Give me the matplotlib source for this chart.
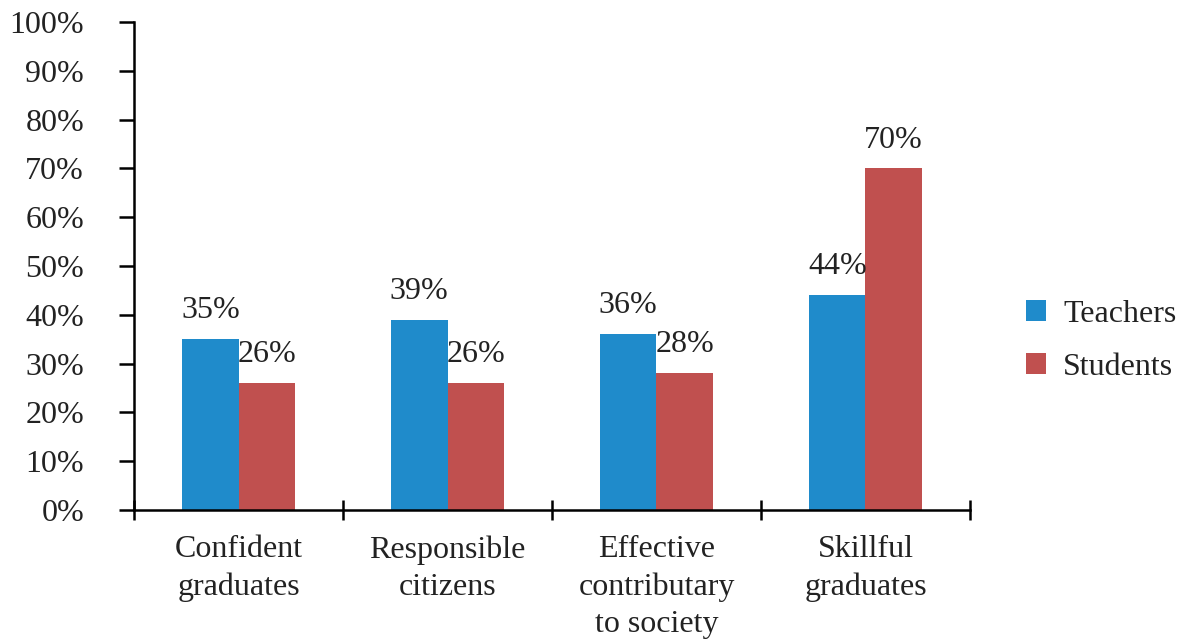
import matplotlib
matplotlib.use("Agg")
import matplotlib.pyplot as plt
import numpy as np

categories = ["Confident\ngraduates", "Responsible\ncitizens",
              "Effective\ncontributary\nto society", "Skillful\ngraduates"]
teachers = [35, 39, 36, 44]
students = [26, 26, 28, 70]
series_names = ["Teachers", "Students"]
y_ticks = [0, 10, 20, 30, 40, 50, 60, 70, 80, 90, 100]

blue = "#1f8bcb"
red = "#c0504f"
text_color = "#222222"
fs = 23

plt.rcParams["font.family"] = ["Liberation Serif", "DejaVu Serif"]

fig = plt.figure(figsize=(11.78, 6.43), dpi=100)
ax = fig.add_axes([0.1138, 0.2068, 0.7096, 0.759])

x = np.arange(len(categories)) + 0.5
w = 0.27
b1 = ax.bar(x - w / 2, teachers, w, color=blue, label=series_names[0], zorder=2)
b2 = ax.bar(x + w / 2, students, w, color=red, label=series_names[1], zorder=2)

for bars, vals in ((b1, teachers), (b2, students)):
    for rect, v in zip(bars, vals):
        ax.annotate(f"{v}%", (rect.get_x() + rect.get_width() / 2, v),
                    xytext=(0, 10), textcoords="offset points",
                    ha="center", va="bottom", fontsize=fs, color=text_color)

ax.set_xlim(0, 4)
ax.set_ylim(0, 100)
ax.set_yticks(y_ticks)
ax.set_yticklabels([f"{t}%" for t in y_ticks])
ax.set_xticks([0, 1, 2, 3, 4])
ax.set_xticklabels([])
ax.set_xticks(x, minor=True)
ax.set_xticklabels(categories, minor=True, fontsize=fs, color=text_color,
                   linespacing=1.38)

for s in ("top", "right"):
    ax.spines[s].set_visible(False)
for s in ("left", "bottom"):
    ax.spines[s].set_linewidth(1.8)
    ax.spines[s].set_color("black")

ax.tick_params(axis="y", which="major", direction="out", length=11, width=1.8,
               labelsize=fs, labelcolor=text_color, pad=25)
ax.tick_params(axis="x", which="major", direction="inout", length=14, width=1.8)
ax.tick_params(axis="x", which="minor", length=0, pad=18)

leg = ax.legend(loc="center left", bbox_to_anchor=(1.067, 0.346), frameon=False,
                fontsize=fs, handlelength=0.63, handleheight=0.63,
                handletextpad=0.53, labelspacing=0.75, labelcolor=text_color,
                borderaxespad=0, borderpad=0)

fig.savefig("out.png", dpi=100, facecolor="white")
